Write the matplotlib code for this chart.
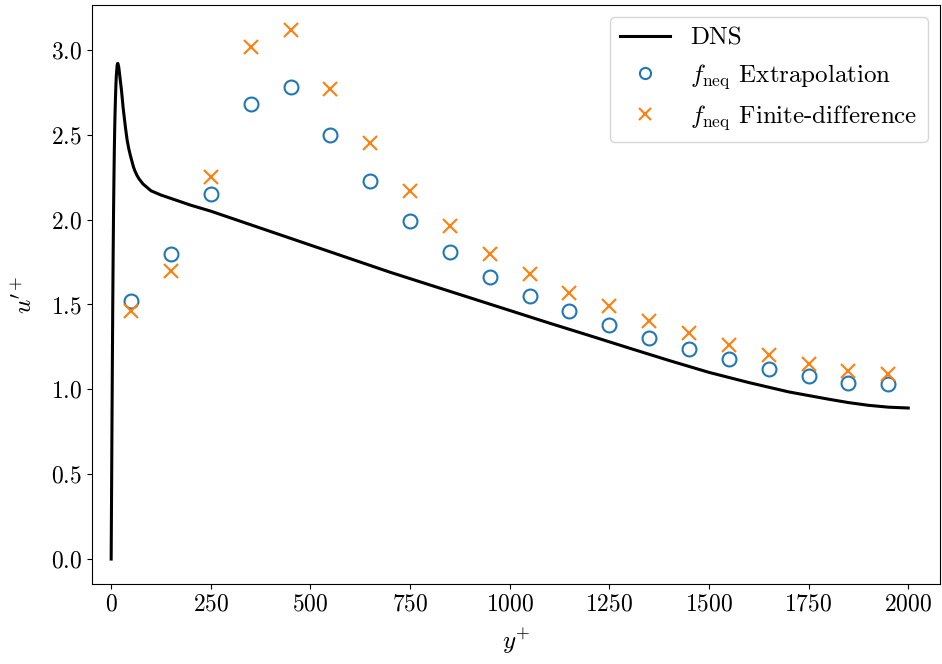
import numpy as np
import matplotlib
matplotlib.use("Agg")
from matplotlib import pyplot as plt

plt.rcParams["font.family"] = "serif"
plt.rcParams["font.serif"] = ["cmr10", "DejaVu Serif"]
plt.rcParams["mathtext.fontset"] = "cm"
plt.rcParams["axes.formatter.use_mathtext"] = True
plt.rcParams["font.size"] = 17

# DNS reference profile
dns_y = [0, 1, 2, 3, 4, 5, 6, 7, 8, 9, 10, 11, 12, 13, 14, 15, 16, 17, 18,
         19, 20, 22, 24, 26, 28, 30, 33, 36, 40, 44, 48, 52, 56, 60, 65, 70,
         80, 90, 100, 125, 150, 200, 250, 300, 400, 500, 600, 700, 800, 900,
         1000, 1100, 1200, 1300, 1400, 1500, 1600, 1700, 1800, 1850, 1900,
         1950, 2000]
dns_u = [0, 0.38, 0.78, 1.15, 1.50, 1.80, 2.05, 2.25, 2.42, 2.55, 2.65, 2.73,
         2.80, 2.85, 2.88, 2.91, 2.92, 2.92, 2.91, 2.90, 2.88, 2.84, 2.80,
         2.76, 2.71, 2.66, 2.60, 2.54, 2.47, 2.42, 2.38, 2.345, 2.31, 2.285,
         2.26, 2.24, 2.21, 2.19, 2.17, 2.145, 2.125, 2.085, 2.05, 2.01, 1.93,
         1.85, 1.77, 1.69, 1.615, 1.54, 1.465, 1.39, 1.317, 1.243, 1.17,
         1.10, 1.04, 0.985, 0.942, 0.922, 0.906, 0.895, 0.89]

# LBM results at cell centres
lbm_y = [50, 150, 250, 350, 450, 550, 650, 750, 850, 950,
         1050, 1150, 1250, 1350, 1450, 1550, 1650, 1750, 1850, 1950]
u_extrap = [1.52, 1.80, 2.15, 2.68, 2.78, 2.50, 2.23, 1.99, 1.81, 1.66,
            1.55, 1.46, 1.38, 1.30, 1.24, 1.18, 1.12, 1.08, 1.04, 1.03]
u_fd = [1.46, 1.70, 2.25, 3.02, 3.12, 2.77, 2.45, 2.17, 1.96, 1.80,
        1.68, 1.57, 1.49, 1.40, 1.33, 1.26, 1.20, 1.15, 1.11, 1.09]

fig = plt.figure(figsize=(9.42, 6.64), dpi=100)
ax = fig.add_axes([0.0977, 0.1205, 0.9003, 0.872])

ax.plot(dns_y, dns_u, color="k", lw=2.2, label="DNS")
ax.plot(lbm_y, u_extrap, "o", mfc="none", mec="C0", ms=10, mew=1.5,
        label=r"$f_{\mathrm{neq}}$ Extrapolation")
ax.plot(lbm_y, u_fd, "x", color="C1", ms=10, mew=1.5,
        label=r"$f_{\mathrm{neq}}$ Finite-difference")

ax.set_xlim(-48, 2080)
ax.set_ylim(-0.147, 3.265)
ax.set_xticks(np.arange(0, 2001, 250))
ax.set_yticks(np.arange(0, 3.01, 0.5))
ax.set_xlabel(r"$y^{+}$", fontsize=18, labelpad=8)
ax.set_ylabel(r"$u'^{+}$", fontsize=18, labelpad=10)
ax.legend(loc="upper right", fontsize=18, markerscale=0.8)

plt.savefig("out.png", dpi=100)
